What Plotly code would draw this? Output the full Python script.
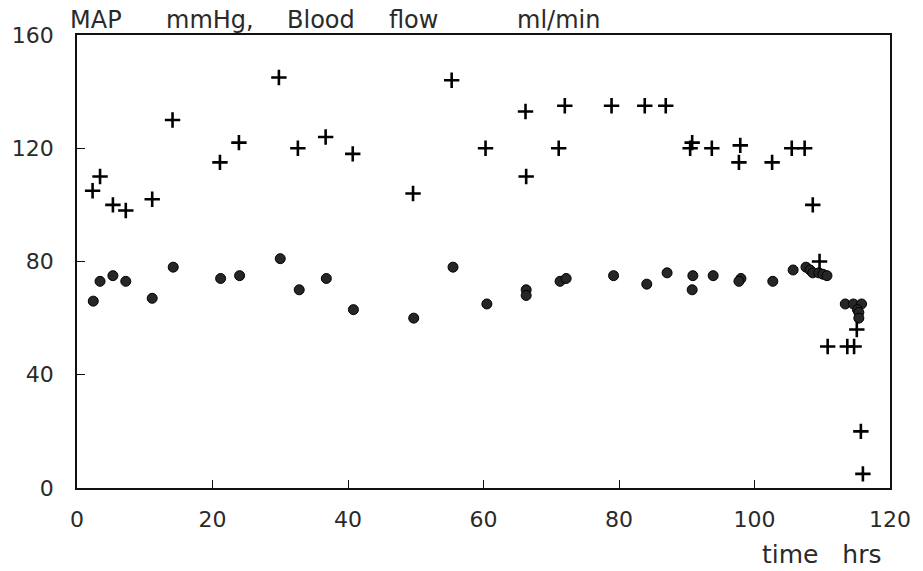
import plotly.graph_objects as go

# Blood flow (ml/min) - plus markers
flow_t = [2.3, 3.4, 5.3, 7.2, 11.1, 14.1, 21.1, 23.9, 29.8, 32.6, 36.7, 40.7,
          49.6, 55.3, 60.3, 66.2, 66.3, 71.1, 72.0, 78.9, 83.8, 86.9, 90.8, 90.5,
          93.7, 97.9, 97.7, 102.6, 105.5, 107.4, 108.6, 109.6, 110.8, 113.7, 114.7,
          115.1, 115.7, 116.0]
flow_v = [105, 110, 100, 98, 102, 130, 115, 122, 145, 120, 124, 118,
          104, 144, 120, 133, 110, 120, 135, 135, 135, 135, 122, 120,
          120, 121, 115, 115, 120, 120, 100, 80, 50, 50, 50,
          56, 20, 5]

# MAP (mmHg) - filled circle markers
map_t = [2.4, 3.4, 5.3, 7.2, 11.1, 14.2, 21.2, 24.0, 30.0, 32.8, 36.8, 40.8,
         49.7, 55.5, 60.5, 66.3, 66.3, 71.3, 72.2, 79.2, 84.1, 87.1, 90.9, 90.8,
         93.9, 98.0, 97.7, 102.7, 105.7, 107.6, 108.2, 108.6, 109.5, 110.1, 110.7,
         113.4, 114.6, 115.8, 115.2, 115.4, 115.4]
map_v = [66, 73, 75, 73, 67, 78, 74, 75, 81, 70, 74, 63,
         60, 78, 65, 70, 68, 73, 74, 75, 72, 76, 75, 70,
         75, 74, 73, 73, 77, 78, 77, 76, 76, 75.5, 75,
         65, 65, 65, 63, 62, 60]

x_ticks = [0, 20, 40, 60, 80, 100, 120]
y_ticks = [0, 40, 80, 120, 160]

title_words = ["MAP", "mmHg,", "Blood", "flow", "ml/min"]
x_label = "time\u00a0\u00a0\u00a0hrs"

FONT = "DejaVu Sans"
TXT = "#2a2a2a"

fig = go.Figure()
fig.add_trace(go.Scatter(
    x=map_t, y=map_v, mode="markers",
    marker=dict(symbol="circle", size=10, color="#262626",
                line=dict(color="#000000", width=1)),
    showlegend=False))
fig.add_trace(go.Scatter(
    x=flow_t, y=flow_v, mode="markers",
    marker=dict(symbol="cross-thin", size=11,
                line=dict(color="#000000", width=2.6)),
    showlegend=False))

axis_common = dict(showgrid=False, zeroline=False, showline=True, mirror=True,
                   linecolor="#111", linewidth=1.5, ticks="inside", ticklen=8,
                   tickcolor="#111", tickwidth=1.2,
                   tickfont=dict(family=FONT, size=22, color=TXT))
fig.update_xaxes(range=[0, 120], tickvals=x_ticks, ticklabelstandoff=11, **axis_common)
fig.update_yaxes(range=[0, 160], tickvals=y_ticks, ticklabelstandoff=17, **axis_common)

# pixel positions of title words converted to paper fraction (plot spans 72..896 px)
word_px = [63, 160, 283, 386, 516]
annotations = []
for w, px in zip(title_words, word_px):
    annotations.append(dict(
        text=w, xref="paper", yref="paper", x=(px - 72) / 824, y=1.0,
        xanchor="left", yanchor="bottom", showarrow=False, yshift=-1,
        font=dict(family=FONT, size=24, color=TXT)))
annotations.append(dict(
    text=x_label, xref="paper", yref="paper", x=(889 - 72) / 824, y=0,
    xanchor="right", yanchor="top", showarrow=False, yshift=-50,
    font=dict(family=FONT, size=25, color=TXT)))

fig.update_layout(
    width=923, height=571,
    margin=dict(l=72, r=27, t=35, b=83),
    paper_bgcolor="white", plot_bgcolor="white",
    annotations=annotations,
)

fig.write_html("out.html")
